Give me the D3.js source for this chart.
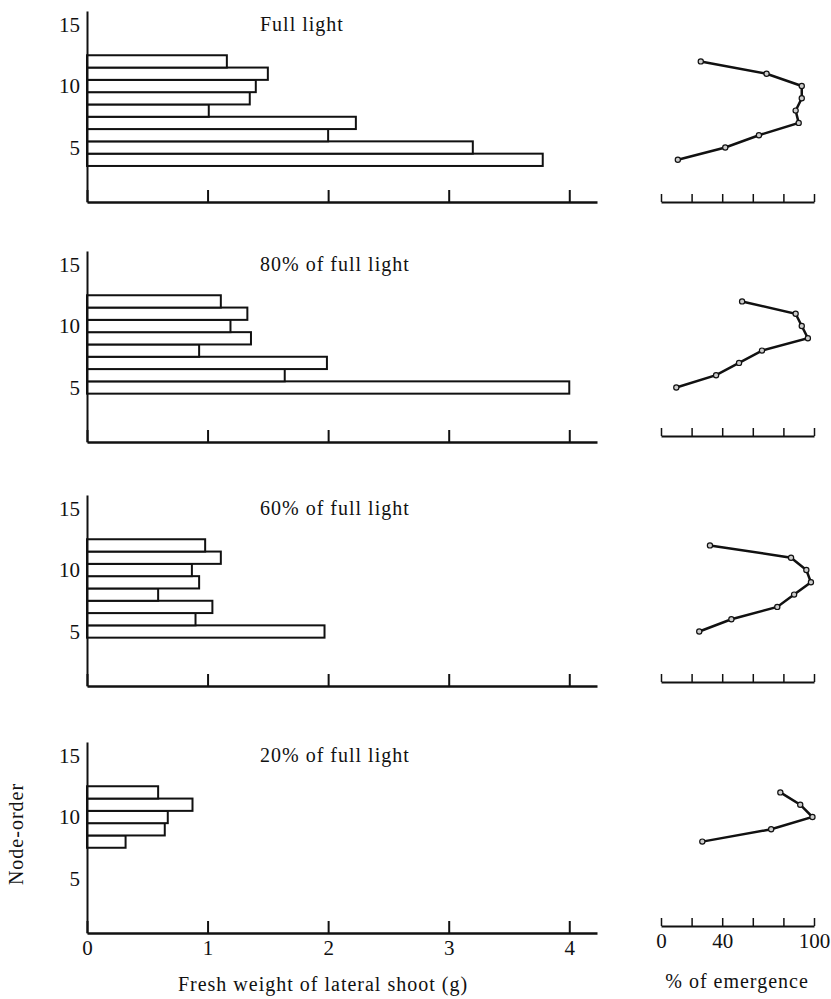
<!DOCTYPE html>
<html>
<head>
<meta charset="utf-8">
<script src="https://cdn.jsdelivr.net/npm/d3@7"></script>
<style>
  body { margin: 0; background: #fff; }
  text { font-family: "Liberation Serif", "DejaVu Serif", serif; fill: #111; }
</style>
</head>
<body>
<div id="chart-area"></div>
<script>
// panel titles
var titles = ["Full light", "80% of full light", "60% of full light", "20% of full light"];

// node-order of each bar / point, per panel
var nodesFull = [4, 5, 6, 7, 8, 9, 10, 11, 12];
var nodes80 = [5, 6, 7, 8, 9, 10, 11, 12];
var nodes60 = [5, 6, 7, 8, 9, 10, 11, 12];
var nodes20 = [8, 9, 10, 11, 12];

// fresh weight of lateral shoot (g)
var weightFull = [3.78, 3.20, 2.00, 2.23, 1.01, 1.35, 1.40, 1.50, 1.16];
var weight80 = [4.00, 1.64, 1.99, 0.93, 1.36, 1.19, 1.33, 1.11];
var weight60 = [1.97, 0.90, 1.04, 0.59, 0.93, 0.87, 1.11, 0.98];
var weight20 = [0.32, 0.645, 0.67, 0.875, 0.59];

// % of emergence
var emergeFull = [11, 42, 64, 90, 88, 92, 92, 69, 26];
var emerge80 = [10, 36, 51, 66, 96, 92, 88, 53];
var emerge60 = [25, 46, 76, 87, 98, 95, 85, 32];
var emerge20 = [27, 72, 99, 91, 78];

// axis ticks
var nodeTicks = [5, 10, 15];
var weightTicks = [0, 1, 2, 3, 4];
var emergeTicks = [0, 20, 40, 60, 80, 100];
var emergeLabels = [0, 40, 100];

var panels = [
    { title: titles[0], nodes: nodesFull, weight: weightFull, emerge: emergeFull },
    { title: titles[1], nodes: nodes80, weight: weight80, emerge: emerge80 },
    { title: titles[2], nodes: nodes60, weight: weight60, emerge: emerge60 },
    { title: titles[3], nodes: nodes20, weight: weight20, emerge: emerge20 }
];

// layout
var axisY = [202, 442, 686, 933];
var rightAxisY = [202, 436, 682, 926];
var unit = 12.3;

var svg = d3.select("#chart-area")
    .append("svg")
    .attr("width", 831)
    .attr("height", 999);

var x = d3.scaleLinear().domain([0, 4.23]).range([87, 597]);
var xr = d3.scaleLinear().domain([0, 100]).range([661, 814]);

panels.forEach(function (p, i) {
    var last = i === panels.length - 1;
    var y = d3.scaleLinear()
        .domain([0.57, 16.1])
        .range([axisY[i], axisY[i] - (16.1 - 0.57) * unit]);

    var rows = p.nodes.map(function (n, k) {
        return { node: n, weight: p.weight[k], emerge: p.emerge[k] };
    });

    // bars
    svg.append("g").selectAll("rect")
        .data(rows)
        .enter()
        .append("rect")
        .attr("x", x(0))
        .attr("y", function (d) { return y(d.node + 0.5); })
        .attr("width", function (d) { return x(d.weight) - x(0); })
        .attr("height", function (d) { return y(d.node - 0.5) - y(d.node + 0.5); })
        .attr("fill", "#fff")
        .attr("stroke", "#111")
        .attr("stroke-width", 2);

    // Y axis
    var yAxis = svg.append("g")
        .attr("transform", "translate(" + x(0) + ",0)")
        .call(d3.axisLeft(y).tickValues(nodeTicks).tickSize(0).tickPadding(7).tickSizeOuter(0));
    yAxis.attr("font-family", null).attr("font-size", null);
    yAxis.select(".domain").attr("stroke", "#111").attr("stroke-width", 2);
    yAxis.selectAll("text").style("font-size", "21px");

    // X axis (weight)
    var xAxis = svg.append("g")
        .attr("transform", "translate(0," + axisY[i] + ")")
        .call(d3.axisBottom(x).tickValues(weightTicks).tickSize(-12).tickSizeOuter(0).tickPadding(7)
            .tickFormat(d3.format("d")));
    xAxis.attr("font-family", null).attr("font-size", null);
    xAxis.select(".domain").attr("stroke", "#111").attr("stroke-width", 2.5);
    xAxis.selectAll("line").attr("stroke", "#111").attr("stroke-width", 2);
    xAxis.selectAll("text").style("font-size", "21px");
    if (!last) xAxis.selectAll("text").remove();

    // panel title
    svg.append("text")
        .attr("x", 260)
        .attr("y", y(15) + 6)
        .attr("style", "font-size: 20px; letter-spacing: 1px")
        .text(p.title);

    // emergence axis
    var rAxis = svg.append("g")
        .attr("transform", "translate(0," + rightAxisY[i] + ")")
        .call(d3.axisBottom(xr).tickValues(emergeTicks).tickSize(-8).tickSizeOuter(0).tickPadding(7)
            .tickFormat(function (d) { return emergeLabels.indexOf(d) >= 0 ? d : ""; }));
    rAxis.attr("font-family", null).attr("font-size", null);
    rAxis.select(".domain").attr("stroke", "#111").attr("stroke-width", 2);
    rAxis.selectAll("line").attr("stroke", "#111").attr("stroke-width", 1.5);
    rAxis.selectAll("text").style("font-size", "21px");
    if (!last) rAxis.selectAll("text").remove();

    // emergence line
    var line = d3.line()
        .x(function (d) { return xr(d.emerge); })
        .y(function (d) { return y(d.node); });

    svg.append("path")
        .datum(rows)
        .attr("d", line)
        .attr("fill", "none")
        .attr("stroke", "#111")
        .attr("stroke-width", 2.5);

    svg.append("g").selectAll("circle")
        .data(rows)
        .enter()
        .append("circle")
        .attr("cx", function (d) { return xr(d.emerge); })
        .attr("cy", function (d) { return y(d.node); })
        .attr("r", 2.6)
        .attr("fill", "#ccc")
        .attr("stroke", "#111")
        .attr("stroke-width", 1.2);
});

// axis labels
svg.append("text")
    .attr("x", 323)
    .attr("y", 991)
    .attr("text-anchor", "middle")
    .attr("style", "font-size: 20px; letter-spacing: 1px")
    .text("Fresh weight of lateral shoot (g)");

svg.append("text")
    .attr("x", 737)
    .attr("y", 988)
    .attr("text-anchor", "middle")
    .attr("style", "font-size: 20px; letter-spacing: 1px")
    .text("% of emergence");

svg.append("text")
    .attr("x", -834)
    .attr("y", 23)
    .attr("text-anchor", "middle")
    .attr("transform", "rotate(-90)")
    .attr("style", "font-size: 20px; letter-spacing: 1px")
    .text("Node-order");
</script>
</body>
</html>
